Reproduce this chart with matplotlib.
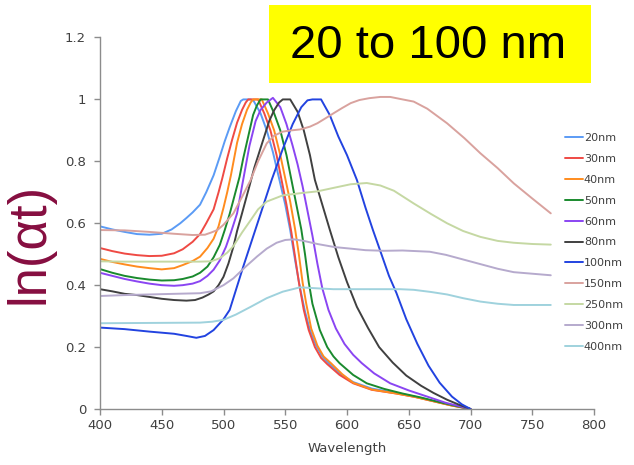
import matplotlib
matplotlib.use("Agg")
import matplotlib.pyplot as plt
from matplotlib.patches import Rectangle
from matplotlib.ticker import FuncFormatter, MultipleLocator

# ---------------- data ----------------
wl_20 = [400, 410, 420, 430, 440, 450, 458, 465, 470, 475, 481, 486, 492, 497, 501, 505, 510, 514, 516, 522,
         524, 530, 535, 540, 545, 550, 554, 558, 562, 566, 570, 575, 580, 586, 595, 605, 620, 640, 655, 670, 685, 700]
ab_20 = [0.59, 0.58, 0.572, 0.565, 0.563, 0.566, 0.58, 0.60, 0.617, 0.635, 0.66, 0.70, 0.755, 0.815, 0.865, 0.91, 0.962, 0.995, 1.0, 1.0,
         0.998, 0.955, 0.90, 0.83, 0.745, 0.66, 0.578, 0.48, 0.39, 0.315, 0.255, 0.205, 0.17, 0.145, 0.112, 0.087, 0.066, 0.052, 0.04, 0.026, 0.012, 0.0]

wl_30 = [400, 410, 420, 430, 440, 450, 460, 467, 475, 481, 486, 492, 496, 499, 503, 507, 511, 515, 518, 520, 528,
         533, 538, 543, 547, 551, 555, 558, 561, 565, 569, 574, 579, 584, 594, 605, 620, 640, 655, 670, 685, 700]
ab_30 = [0.52, 0.51, 0.502, 0.497, 0.494, 0.495, 0.503, 0.516, 0.54, 0.565, 0.60, 0.645, 0.70, 0.745, 0.81, 0.87, 0.925, 0.966, 0.99, 1.0, 1.0,
         0.955, 0.90, 0.82, 0.74, 0.66, 0.57, 0.49, 0.41, 0.32, 0.255, 0.20, 0.165, 0.145, 0.11, 0.083, 0.062, 0.05, 0.039, 0.025, 0.011, 0.0]

wl_40 = [400, 410, 420, 430, 440, 450, 460, 467, 475, 481, 487, 492, 496, 500, 503, 506, 511, 515, 519, 522, 524, 531,
         536, 541, 546, 550, 554, 558, 561, 564, 567, 571, 576, 581, 587, 596, 605, 620, 640, 655, 670, 685, 700]
ab_40 = [0.485, 0.475, 0.467, 0.46, 0.455, 0.451, 0.455, 0.465, 0.478, 0.492, 0.52, 0.55, 0.59, 0.65, 0.70, 0.755, 0.86, 0.92, 0.966, 0.99, 1.0, 1.0,
         0.955, 0.90, 0.82, 0.745, 0.67, 0.58, 0.50, 0.41, 0.34, 0.26, 0.205, 0.17, 0.148, 0.113, 0.085, 0.063, 0.05, 0.039, 0.025, 0.011, 0.0]

wl_50 = [400, 410, 420, 430, 440, 450, 460, 467, 475, 481, 487, 492, 497, 501, 505, 509, 513, 516, 520, 524, 527, 530, 536,
         541, 546, 551, 555, 559, 563, 566, 569, 572, 578, 584, 589, 594, 605, 616, 630, 645, 660, 675, 688, 700]
ab_50 = [0.452, 0.44, 0.43, 0.423, 0.418, 0.415, 0.416, 0.42, 0.428, 0.44, 0.46, 0.49, 0.53, 0.578, 0.63, 0.69, 0.75, 0.81, 0.88, 0.95, 0.98, 1.0, 1.0,
         0.955, 0.90, 0.82, 0.74, 0.66, 0.58, 0.50, 0.41, 0.34, 0.255, 0.20, 0.17, 0.148, 0.11, 0.083, 0.065, 0.05, 0.037, 0.022, 0.01, 0.0]

wl_60 = [400, 410, 420, 430, 440, 450, 460, 467, 475, 481, 487, 492, 497, 502, 506, 511, 515, 521, 526, 530, 535, 540,
         546, 551, 556, 560, 564, 568, 572, 576, 580, 585, 591, 598, 605, 612, 622, 635, 650, 665, 680, 700]
ab_60 = [0.44, 0.43, 0.42, 0.412, 0.405, 0.40, 0.398, 0.40, 0.405, 0.413, 0.43, 0.45, 0.48, 0.524, 0.57, 0.632, 0.72, 0.85, 0.93, 0.966, 0.99, 1.005,
         0.975, 0.92, 0.85, 0.79, 0.72, 0.64, 0.56, 0.47, 0.39, 0.32, 0.26, 0.21, 0.175, 0.148, 0.115, 0.083, 0.06, 0.04, 0.02, 0.0]

wl_80 = [400, 410, 420, 430, 440, 450, 460, 470, 477, 483, 488, 492, 496, 500, 504, 508, 511, 515, 521, 525, 529, 533, 537, 541, 545, 548, 554,
         560, 565, 570, 574, 580, 586, 593, 600, 608, 617, 626, 637, 648, 660, 670, 681, 690, 700]
ab_80 = [0.387, 0.38, 0.372, 0.368, 0.362, 0.356, 0.352, 0.35, 0.352, 0.36, 0.37, 0.38, 0.40, 0.427, 0.47, 0.524, 0.575, 0.632, 0.72, 0.78, 0.83, 0.88, 0.93, 0.965, 0.99, 1.0, 1.0,
         0.96, 0.90, 0.82, 0.74, 0.66, 0.58, 0.49, 0.41, 0.33, 0.262, 0.2, 0.15, 0.108, 0.075, 0.052, 0.03, 0.015, 0.0]

wl_100 = [400, 420, 440, 460, 470, 478, 485, 492, 500, 505, 516, 530, 539, 548, 556, 563, 568, 572, 579,
          586, 593, 600, 608, 615, 621, 627, 634, 640, 648, 657, 666, 675, 685, 693, 700]
ab_100 = [0.263, 0.258, 0.25, 0.243, 0.236, 0.23, 0.236, 0.255, 0.29, 0.32, 0.46, 0.63, 0.74, 0.84, 0.92, 0.975, 0.997, 1.0, 1.0,
          0.95, 0.88, 0.82, 0.74, 0.65, 0.578, 0.51, 0.43, 0.375, 0.29, 0.21, 0.14, 0.085, 0.04, 0.015, 0.0]

wl_150 = [400, 420, 440, 460, 475, 485, 490, 495, 500, 508, 515, 522, 528, 535, 541, 548, 555, 562, 570, 576, 583, 589, 596, 603, 610,
          618, 627, 635, 645, 654, 665, 681, 695, 708, 722, 735, 750, 765]
ab_150 = [0.578, 0.577, 0.572, 0.566, 0.562, 0.563, 0.57, 0.578, 0.595, 0.632, 0.685, 0.74, 0.80, 0.858, 0.883, 0.896, 0.90, 0.903, 0.912, 0.923, 0.94, 0.955, 0.972, 0.988, 0.998,
          1.004, 1.008, 1.008, 1.0, 0.993, 0.97, 0.923, 0.875, 0.826, 0.778, 0.729, 0.68, 0.632]

wl_250 = [400, 420, 440, 460, 480, 490, 497, 503, 508, 515, 522, 528, 535, 548, 562, 576, 590, 603, 616, 627, 638, 654, 668, 681, 694,
          708, 722, 735, 750, 765]
ab_250 = [0.477, 0.476, 0.476, 0.476, 0.476, 0.477, 0.487, 0.505, 0.526, 0.57, 0.61, 0.645, 0.67, 0.69, 0.697, 0.703, 0.715, 0.726, 0.73, 0.722, 0.705, 0.664, 0.63, 0.60, 0.575,
          0.556, 0.543, 0.537, 0.533, 0.531]

wl_300 = [400, 420, 440, 460, 481, 490, 500, 508, 518, 527, 535, 543, 550, 557, 565, 576, 590, 603, 615, 630, 645, 667, 680, 694, 708,
          722, 735, 750, 765]
ab_300 = [0.365, 0.368, 0.37, 0.372, 0.374, 0.38, 0.40, 0.422, 0.46, 0.492, 0.518, 0.537, 0.546, 0.548, 0.543, 0.533, 0.523, 0.518, 0.513, 0.511, 0.512, 0.508, 0.498, 0.483, 0.468,
          0.453, 0.442, 0.437, 0.432]

wl_400 = [400, 440, 481, 491, 500, 510, 522, 535, 548, 562, 575, 589, 620, 643, 654, 668, 681, 694, 708, 722, 735, 750, 765]
ab_400 = [0.277, 0.278, 0.279, 0.282, 0.288, 0.305, 0.33, 0.358, 0.379, 0.393, 0.39, 0.387, 0.387, 0.387, 0.385, 0.378, 0.37, 0.358, 0.347, 0.34, 0.336, 0.336, 0.336]

labels = ["20nm", "30nm", "40nm", "50nm", "60nm", "80nm", "100nm", "150nm", "250nm", "300nm", "400nm"]
series = [(wl_20, ab_20), (wl_30, ab_30), (wl_40, ab_40), (wl_50, ab_50), (wl_60, ab_60), (wl_80, ab_80),
          (wl_100, ab_100), (wl_150, ab_150), (wl_250, ab_250), (wl_300, ab_300), (wl_400, ab_400)]
colors = ["#5b9bf5", "#ef4a44", "#ff8c1e", "#1a8a2e", "#8a45f2", "#404040", "#2243e0",
          "#d9a29e", "#c5d8a3", "#b6aacd", "#9fd2dd"]

x_ticks = [400, 450, 500, 550, 600, 650, 700, 750, 800]

# ---------------- figure ----------------
W, H = 634, 465
fig = plt.figure(figsize=(W / 100, H / 100), dpi=100)
ax = fig.add_axes([100 / W, 1 - 409 / H, 494 / W, (409 - 37.5) / H])

for (x, y), c, lab in zip(series, colors, labels):
    ax.plot(x, y, color=c, lw=1.4, label=lab, solid_capstyle="round")

ax.set_xlim(400, 800)
ax.set_ylim(0, 1.2)
ax.set_xticks(x_ticks)
ax.yaxis.set_major_locator(MultipleLocator(0.2))
ax.yaxis.set_major_formatter(FuncFormatter(lambda v, p: ("%g" % round(v, 1))))

for s in ["top", "right"]:
    ax.spines[s].set_visible(False)
for s in ["left", "bottom"]:
    ax.spines[s].set_color("#8c8c8c")
    ax.spines[s].set_linewidth(1.0)
ax.tick_params(axis="both", colors="#8c8c8c", labelcolor="#404040", labelsize=9.5,
               length=4, width=1.0, direction="out")
ax.tick_params(axis="y", pad=6)
ax.set_xlabel("Wavelength", fontsize=9.5, color="#404040", labelpad=7)

leg = ax.legend(loc="upper left", bbox_to_anchor=(565 / W, 1 - 133 / H), bbox_transform=fig.transFigure,
                frameon=False, fontsize=8, handlelength=1.6, handletextpad=0.1, labelspacing=0.98,
                borderaxespad=0, borderpad=0)
for t in leg.get_texts():
    t.set_color("#404040")

# y label
fig.text(29 / W, 1 - 243 / H, "ln(\u03b1t)", rotation=90, ha="center", va="center",
         fontsize=38, color="#860e40", family=["Liberation Sans", "DejaVu Sans"])

# yellow box with title
fig.patches.append(Rectangle((269 / W, 1 - 83 / H), (591 - 269) / W, (83 - 5) / H,
                             transform=fig.transFigure, facecolor="#ffff00", edgecolor="none", zorder=5))
fig.text(428 / W, 1 - 46 / H, "20 to 100 nm", ha="center", va="center", fontsize=34,
         color="black", family=["Liberation Sans", "DejaVu Sans"], zorder=6)

fig.savefig("out.png", dpi=100)
